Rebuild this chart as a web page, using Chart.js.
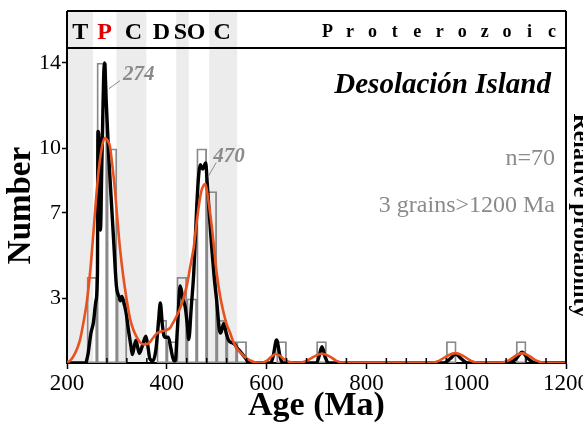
<!DOCTYPE html>
<html>
<head>
<meta charset="utf-8">
<script src="https://cdn.jsdelivr.net/npm/chart.js@4.4.0/dist/chart.umd.min.js"></script>
<style>
  html, body { margin: 0; padding: 0; background: #fff; }
  #wrap { width: 583px; height: 431px; }
</style>
</head>
<body>
<div id="wrap"><canvas id="age-chart" width="583" height="431"></canvas></div>
<script>
// histogram, 20 Ma bins (start of bin)
const binStart = [240, 260, 280, 300, 380, 400, 420, 440, 460, 480, 500, 520, 540, 620, 700, 960, 1100];
const binCount = [4, 14, 10, 3, 2, 1, 4, 3, 10, 8, 2, 1, 1, 1, 1, 1, 1];

// probability density plot (black)
const pdpAge = [200, 237, 242, 248, 253, 258, 261, 262, 264, 267, 270, 275, 279, 284, 289, 294, 299, 304, 307, 310, 314, 318, 324, 328, 331, 335, 338, 341, 345, 351, 358, 362, 366, 372, 378, 383, 387, 391, 394, 398, 403, 408, 414, 417, 421, 427, 432, 437, 441, 444, 449, 454, 460, 464, 467, 472, 478, 481, 485, 490, 495, 500, 505, 508, 514, 519, 524, 530, 535, 541, 547, 555, 562, 570, 608, 613, 620, 627, 632, 700, 705, 711, 717, 724, 955, 968, 979, 990, 1003, 1085, 1100, 1112, 1124, 1140, 1200];
const pdpVal = [0, 0, 0.4, 1.4, 1.9, 2.9, 4.2, 10.8, 10.5, 6.2, 9.5, 14, 12, 9.5, 7.5, 5.5, 3.6, 3.1, 2.9, 3.1, 2.8, 2.4, 1.4, 0.8, 0.4, 0.8, 1.05, 0.8, 0.45, 0.8, 1.25, 0.8, 0.2, 0.1, 0.6, 1.8, 2.8, 1.8, 1.3, 1.2, 1.2, 0.7, 0.1, 0.1, 1.5, 3.6, 3.0, 2.6, 1.8, 1.1, 2.6, 4.2, 7.3, 8.8, 9.25, 9.05, 9.33, 8.4, 7.0, 5.4, 4.0, 2.9, 1.6, 1.4, 1.85, 1.4, 1.05, 0.95, 0.9, 0.7, 0.55, 0.3, 0.1, 0, 0, 0.3, 1.07, 0.3, 0, 0, 0.3, 0.76, 0.3, 0, 0, 0.2, 0.42, 0.2, 0, 0, 0.2, 0.5, 0.2, 0, 0];

// kernel density estimate (orange)
const kdeAge = [200, 206, 215, 226, 233, 240, 247, 253, 258, 263, 268, 272, 276, 281, 286, 291, 296, 301, 306, 313, 320, 326, 333, 340, 347, 353, 360, 367, 375, 381, 387, 395, 401, 407, 413, 419, 424, 432, 440, 447, 454, 459, 464, 469, 474, 477, 480, 485, 490, 495, 500, 507, 514, 520, 527, 533, 540, 547, 555, 567, 580, 590, 600, 610, 618, 626, 638, 650, 665, 680, 695, 711, 727, 740, 755, 930, 945, 962, 978, 994, 1010, 1025, 1070, 1085, 1100, 1112, 1126, 1140, 1155, 1200];
const kdeVal = [0.05, 0.1, 0.4, 1.07, 1.9, 2.9, 4.4, 6.1, 7.6, 8.9, 9.8, 10.3, 10.5, 10.4, 10.1, 9.2, 8.1, 6.7, 5.4, 4.0, 2.9, 2.1, 1.55, 1.2, 0.95, 0.87, 0.88, 1.0, 1.25, 1.4, 1.46, 1.5, 1.55, 1.65, 1.9, 2.15, 2.4, 2.9, 3.6, 4.5, 5.4, 6.4, 7.3, 8.0, 8.3, 8.35, 8.1, 7.3, 6.4, 5.3, 4.2, 3.1, 2.33, 1.8, 1.4, 1.0, 0.7, 0.5, 0.3, 0.12, 0.02, 0.02, 0.1, 0.3, 0.42, 0.35, 0.12, 0.03, 0.02, 0.1, 0.3, 0.43, 0.3, 0.1, 0.02, 0.02, 0.1, 0.33, 0.46, 0.33, 0.1, 0.02, 0.02, 0.12, 0.35, 0.46, 0.33, 0.12, 0.02, 0];

const yTicks = [3, 7, 10, 14];
const periodName = ['T', 'P', 'C', 'D', 'S', 'O', 'C'];
const periodStart = [201, 252, 299, 359, 419, 444, 485];
const periodEnd = [252, 299, 359, 419, 444, 485, 541];
const periodShaded = [true, false, true, false, true, false, true];
const peakAges = ['274', '470'];

const serif = "'Liberation Serif', 'DejaVu Serif', serif";
Chart.defaults.font.family = serif;
Chart.defaults.color = '#000';

const headerTop = 11;

// shaded periods, header, frame, minor ticks and annotation text
const decor = {
    id: 'decor',
    beforeDraw(chart) {
        const { ctx, chartArea: a, scales: { x } } = chart;
        ctx.save();
        ctx.fillStyle = '#ececec';
        periodStart.forEach((s, i) => {
            if (!periodShaded[i]) return;
            const x0 = x.getPixelForValue(Math.max(s, 200));
            const x1 = x.getPixelForValue(periodEnd[i]);
            ctx.fillRect(x0, headerTop, x1 - x0, a.bottom - headerTop);
        });
        ctx.restore();
    },
    afterDraw(chart) {
        const { ctx, chartArea: a, scales: { x, y } } = chart;
        ctx.save();

        // frame + header box
        ctx.strokeStyle = '#000';
        ctx.lineWidth = 2;
        ctx.beginPath();
        ctx.moveTo(a.left, a.top); ctx.lineTo(a.right, a.top);
        ctx.moveTo(a.left, headerTop); ctx.lineTo(a.right, headerTop);
        ctx.moveTo(a.left, headerTop); ctx.lineTo(a.left, a.top);
        ctx.moveTo(a.right, headerTop); ctx.lineTo(a.right, a.bottom + 1);
        ctx.stroke();

        // minor ticks every 40 Ma, inside
        ctx.lineWidth = 1.5;
        ctx.beginPath();
        for (let v = 240; v < 1200; v += 40) {
            if (v % 200 === 0) continue;
            const px = x.getPixelForValue(v);
            ctx.moveTo(px, a.bottom);
            ctx.lineTo(px, a.bottom - 5);
        }
        ctx.stroke();

        // period letters
        ctx.textAlign = 'center';
        ctx.textBaseline = 'alphabetic';
        ctx.font = 'bold 24px ' + serif;
        const nudge = [0, 0, 2, 0, -2, -3, -1];
        periodName.forEach((n, i) => {
            ctx.fillStyle = n === 'P' ? '#e00000' : '#000';
            const mid = x.getPixelForValue((periodStart[i] + periodEnd[i]) / 2);
            ctx.fillText(n, mid + nudge[i], 39);
        });
        ctx.fillStyle = '#000';
        ctx.font = 'bold 18px ' + serif;
        'Proterozoic'.split('').forEach((c, i) => {
            ctx.fillText(c, 327.5 + i * 22.45, 37);
        });

        // title and notes
        ctx.textAlign = 'right';
        ctx.font = 'bold italic 29px ' + serif;
        ctx.fillText('Desolación Island', 551, 93);
        ctx.fillStyle = '#8a8a8a';
        ctx.font = '24px ' + serif;
        ctx.fillText('n=70', 555, 165);
        ctx.fillText('3 grains>1200 Ma', 555, 212);

        // peak labels
        ctx.textAlign = 'left';
        ctx.font = 'bold italic 21px ' + serif;
        ctx.strokeStyle = '#8a8a8a';
        ctx.lineWidth = 1;
        const lx = [[284, 12.8], [483, 8.7]];
        const off = [[11, -8, 3, -1], [8, -14, -3, -1]];
        peakAges.forEach((t, i) => {
            const px = x.getPixelForValue(lx[i][0]);
            const py = y.getPixelForValue(lx[i][1]);
            ctx.beginPath();
            ctx.moveTo(px, py);
            ctx.lineTo(px + off[i][0], py + off[i][1]);
            ctx.stroke();
            ctx.fillText(t, px + off[i][0] + off[i][2], py + off[i][1] + off[i][3]);
        });

        // right axis title, cut by the canvas edge
        ctx.fillStyle = '#000';
        ctx.font = 'bold 24px ' + serif;
        ctx.textAlign = 'center';
        ctx.translate(574, (a.top + a.bottom) / 2 + 10);
        ctx.rotate(Math.PI / 2);
        ctx.fillText('Relative probability', 0, 0);
        ctx.restore();
    }
};

new Chart(document.getElementById('age-chart'), {
    type: 'bar',
    data: {
        datasets: [{
            type: 'line',
            label: 'KDE',
            data: kdeAge.map((a, i) => ({ x: a, y: kdeVal[i] })),
            borderColor: '#e8521f',
            borderWidth: 2.6,
            pointRadius: 0,
            cubicInterpolationMode: 'monotone'
        }, {
            type: 'line',
            label: 'PDP',
            data: pdpAge.map((a, i) => ({ x: a, y: pdpVal[i] })),
            borderColor: '#000',
            borderWidth: 3.4,
            pointRadius: 0,
            cubicInterpolationMode: 'monotone'
        }, {
            type: 'bar',
            label: 'Number',
            data: binStart.map((b, i) => ({ x: b + 10, y: binCount[i] })),
            backgroundColor: 'rgba(0,0,0,0)',
            borderColor: '#8a8a8a',
            borderWidth: 1.2,
            borderSkipped: false,
            barPercentage: 1,
            categoryPercentage: 1
        }]
    },
    options: {
        responsive: false,
        animation: false,
        layout: { padding: { top: 48, right: 17, left: 0, bottom: 0 } },
        plugins: { legend: { display: false }, tooltip: { enabled: false } },
        scales: {
            x: {
                type: 'linear',
                offset: false,
                min: 200,
                max: 1200,
                ticks: { stepSize: 200, color: '#000', font: { size: 23 }, padding: 1, maxRotation: 0,
                    callback: v => String(v) },
                grid: { offset: false, drawOnChartArea: false, tickLength: 6, tickColor: '#000', tickWidth: 1.5 },
                border: { color: '#000', width: 2 },
                title: { display: true, text: 'Age (Ma)', font: { size: 34, weight: 'bold' }, padding: { bottom: 4 } },
                afterFit(scale) {
                    scale.height = 68;
                    scale.paddingLeft = 0;
                    scale.paddingRight = 0;
                }
            },
            y: {
                min: 0,
                max: 14.7,
                afterBuildTicks(axis) {
                    axis.ticks = yTicks.map(v => ({ value: v }));
                },
                ticks: { color: '#000', font: { size: 22 }, padding: 1 },
                grid: { drawOnChartArea: false, tickLength: 5, tickColor: '#000', tickWidth: 1.5 },
                border: { color: '#000', width: 2 },
                title: { display: true, text: 'Number', font: { size: 33, weight: 'bold' }, padding: { top: 2 } },
                afterFit(scale) {
                    scale.width = 67;
                }
            }
        }
    },
    plugins: [decor]
});
</script>
</body>
</html>
